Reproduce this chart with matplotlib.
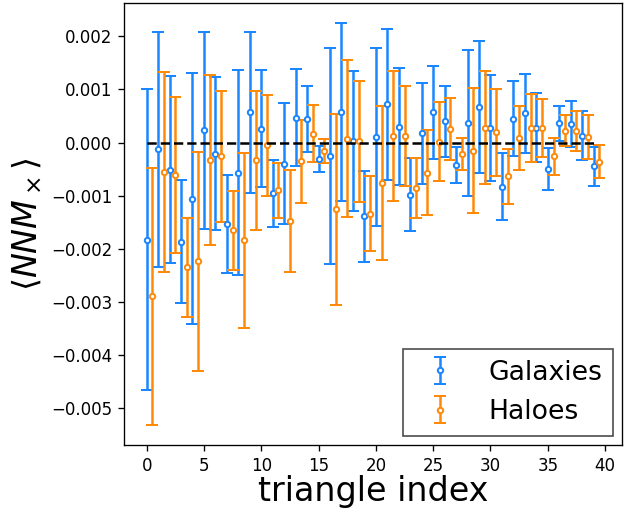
import numpy as np
from matplotlib import pyplot as plt

## Values (units of 1e-3)
gal_val = [-1.83, -0.126, -0.51, -1.87, -1.057, 0.23, -0.21, -1.54, -0.57, 0.566,
           0.264, -0.96, -0.40, 0.47, 0.45, -0.31, -0.25, 0.57, 0.03, -1.39,
           0.107, 0.72, 0.296, -0.98, 0.17, 0.566, 0.40, -0.42, 0.365, 0.67,
           0.277, -0.83, 0.447, 0.547, 0.277, -0.50, 0.36, 0.346, 0.13, -0.45]
gal_err = [2.84, 2.21, 1.76, 1.16, 2.37, 1.86, 1.44, 0.925, 1.93, 1.51,
           1.10, 0.625, 1.14, 0.92, 0.62, 0.25, 2.04, 1.68, 1.32, 0.86,
           1.68, 1.42, 1.10, 0.68, 0.95, 0.875, 0.67, 0.34, 1.38, 1.25,
           0.995, 0.635, 0.71, 0.74, 0.65, 0.40, 0.33, 0.43, 0.46, 0.36]
halo_val = [-2.90, -0.553, -0.61, -2.35, -2.24, -0.33, -0.26, -1.65, -1.84, -0.33,
            -0.05, -0.90, -1.48, -0.35, 0.164, -0.157, -1.26, 0.075, 0.02, -1.34,
            -0.76, 0.12, 0.13, -0.855, -0.566, 0.019, 0.26, -0.22, -0.157, 0.28,
            0.19, -0.64, 0.088, 0.277, 0.277, -0.26, 0.22, 0.22, 0.107, -0.36]
halo_err = [2.42, 1.89, 1.47, 0.93, 2.06, 1.61, 1.23, 0.745, 1.65, 1.31,
            0.95, 0.52, 0.96, 0.78, 0.54, 0.23, 1.80, 1.475, 1.14, 0.705,
            1.45, 1.23, 0.94, 0.57, 0.80, 0.75, 0.58, 0.30, 1.18, 1.06,
            0.82, 0.525, 0.60, 0.635, 0.55, 0.345, 0.29, 0.38, 0.41, 0.31]

idx = np.arange(len(gal_val))

fig = plt.figure(figsize=(5.2, 511/120), dpi=120)
ax = fig.add_axes([124/624, 66/511, 498/624, 442/511])

ax.errorbar(idx, np.array(gal_val)*1e-3, yerr=np.array(gal_err)*1e-3,
            fmt='o', color='#1a86ff', ms=3.2, mfc='white', mew=1.2,
            capsize=3.5, label='Galaxies')
ax.errorbar(idx + 0.5, np.array(halo_val)*1e-3, yerr=np.array(halo_err)*1e-3,
            fmt='o', color='#ff8a0a', ms=3.2, mfc='white', mew=1.2,
            capsize=3.5, label='Haloes')
ax.plot(idx, np.zeros(len(idx)), 'k--', lw=1.5, zorder=5)

ax.set_xlabel('triangle index', fontsize=20, labelpad=0)
ax.set_ylabel(r'$\langle NNM_\times \rangle$', fontsize=20)
ax.legend(loc='lower right', fontsize=16, fancybox=False, edgecolor='0.3',
          framealpha=1, borderaxespad=0.35)

fig.savefig('out.png', dpi=120)
